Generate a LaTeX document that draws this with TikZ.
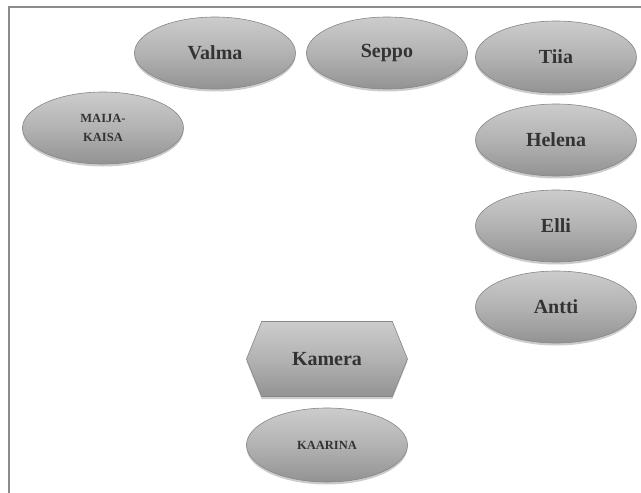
\documentclass[tikz,border=0pt]{standalone}
\usepackage{fontspec}
\setmainfont{Liberation Serif}
\usetikzlibrary{shapes.geometric,shapes.symbols,shadows}

\begin{document}
\begin{tikzpicture}[x=1pt,y=-1pt,
  knob/.style={draw=gray!95,line width=.6pt,top color=gray!40,bottom color=gray!85,middle color=gray!60,
    text=black!80,font=\bfseries\fontsize{20}{22}\selectfont,drop shadow={opacity=.4,shadow xshift=0pt,shadow yshift=-2.5pt}},
  oval/.style={knob,ellipse,minimum width=161pt,minimum height=72pt,inner sep=0pt},
  small/.style={font=\bfseries\fontsize{12.5}{19}\selectfont,align=center}]
\useasboundingbox(0,0)rectangle(641,493);
\draw[gray!90,line width=1.3pt](9,493)--(9,7)--(641,7);
\node[oval](val)at(215,53){Valma};\node[oval](sep)at(387,53){Seppo};\node[oval](tii)at(556,57){Tiia};
\node[oval,small](mai)at(103,128){MAIJA-\\KAISA};
\node[oval](hel)at(556,140){Helena};\node[oval](ell)at(556,226){Elli};\node[oval](ant)at(556,307){Antti};
\node[knob,signal,signal to=west and east,signal pointer angle=136,minimum width=161pt,minimum height=75pt,inner sep=0pt](kam)at(327,359){Kamera};
\node[oval,small,minimum height=74pt](kaa)at(327,445){KAARINA};
\end{tikzpicture}
\end{document}
